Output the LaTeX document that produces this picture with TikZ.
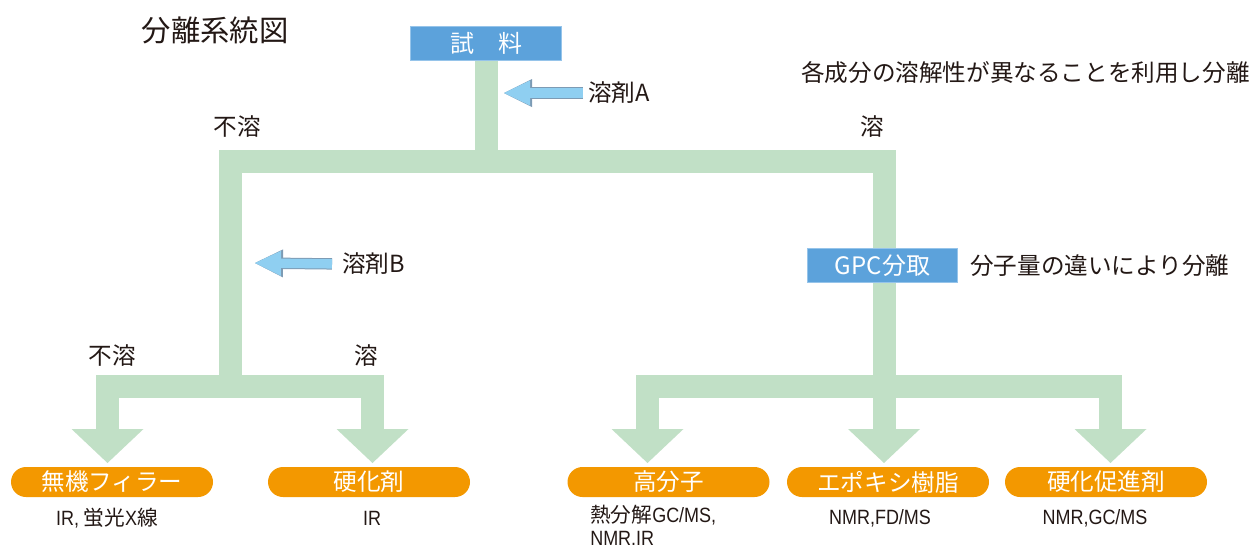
\documentclass[tikz,border=0pt]{standalone}
\usepackage{fontspec}
\setmainfont{Noto Sans CJK JP}
\newfontfamily\narrowlatin[FakeStretch=0.87]{Liberation Sans}
\usetikzlibrary{arrows.meta,backgrounds}
\definecolor{flowgreen}{RGB}{193,224,198}
\definecolor{boxblue}{RGB}{92,162,219}
\definecolor{boxedge}{RGB}{150,196,234}
\definecolor{pillorange}{RGB}{243,152,0}
\definecolor{solvblue}{RGB}{143,207,241}
\definecolor{solvedge}{RGB}{125,155,180}
\definecolor{ink}{RGB}{35,24,21}

\begin{document}
\begin{tikzpicture}[x=0.75pt, y=-0.75pt,
  every node/.style={inner sep=0pt, text=ink, font=\fontsize{17.7pt}{21pt}\selectfont},
  stage/.style={rectangle, fill=boxblue, draw=boxedge, line width=0.75pt, minimum width=113pt, minimum height=26pt, text=white, font=\fontsize{18pt}{21pt}\selectfont},
  result/.style={rectangle, rounded corners=11.25pt, fill=pillorange, minimum width=151.5pt, minimum height=22.5pt, text=white},
  method/.style={font=\fontsize{15.5pt}{17.5pt}\selectfont, align=left},
  flow/.style={draw=flowgreen, line width=17.25pt, line join=miter},
  split/.style={flow, -{Triangle[width=54pt, length=25.5pt, line width=0pt]}},
  solvent/.style={draw=solvblue, line width=7pt, -{Triangle[width=18.75pt, length=19.5pt, line width=0pt]},
    preaction={draw=solvedge, line width=8.5pt, -{Triangle[width=21pt, length=21pt, line width=0pt]}}}]
\useasboundingbox (0,0) rectangle (1251,551);

\node (title) at (215,30) [font=\fontsize{22pt}{26pt}\selectfont] {分離系統図};
\node[stage] (sample) at (486,43.5) {試　料};
\node[anchor=east] (aim) at (1250,73) {各成分の溶解性が異なることを利用し分離};
\node[anchor=west] (solA) at (588,93) {溶剤A};
\node (insolA) at (237,127) {不溶};
\node (solubleA) at (872,127) {溶};
\node[anchor=west] (solB) at (342,264) {溶剤B};
\node[stage] (gpc) at (882.5,265.5) {GPC分取};
\node[anchor=west] (gpcnote) at (970,266) {分子量の違いにより分離};
\node (insolB) at (112,356) {不溶};
\node (solubleB) at (366,356) {溶};

\node[result] (filler) at (112,482) {無機フィラー};
\node[result] (hardener) at (369,482) {硬化剤};
\node[result] (polymer) at (668.5,482) {高分子};
\node[result] (epoxy) at (888,482) {エポキシ樹脂};
\node[result] (accel) at (1106,482) {硬化促進剤};

\node[method] (fillerian) at (107,518) {{\narrowlatin IR,} 蛍光{\narrowlatin X}線};
\node[method] (hardenerian) at (372,518) {\narrowlatin IR};
\node[method, anchor=north west] (polymerian) at (590,505) {熱分解{\narrowlatin GC/MS,}\\{\narrowlatin NMR.IR}};
\node[method] (epoxyan) at (880,518) {\narrowlatin NMR,FD/MS};
\node[method] (accelan) at (1095,518) {\narrowlatin NMR,GC/MS};

\coordinate (hub) at (486,161.5);
\coordinate (leftfork) at (230,386.5);
\coordinate (rightfork) at (884,386.5);
\coordinate (tipfiller) at (107.5,463);
\coordinate (tiphardener) at (372.5,463);
\coordinate (tippolymer) at (647.5,463);
\coordinate (tipepoxy) at (884,463);
\coordinate (tipaccel) at (1110.5,463);
\coordinate (tipA) at (504,93);
\coordinate (tipB) at (255,263);

\begin{scope}[on background layer]
  \draw[flow] (sample) -- (hub);
  \draw[flow] (leftfork) |- (hub) -| (rightfork);
  \draw[split] (leftfork) -| (tipfiller);
  \draw[split] (leftfork) -| (tiphardener);
  \draw[split] (rightfork) -| (tippolymer);
  \draw[split] (rightfork) -- (tipepoxy);
  \draw[split] (rightfork) -| (tipaccel);
\end{scope}
\draw[solvent, shorten <=3.75pt] (solA.west) -- (tipA);
\draw[solvent, shorten <=7.5pt] (solB.west) -- (tipB);
\end{tikzpicture}
\end{document}
